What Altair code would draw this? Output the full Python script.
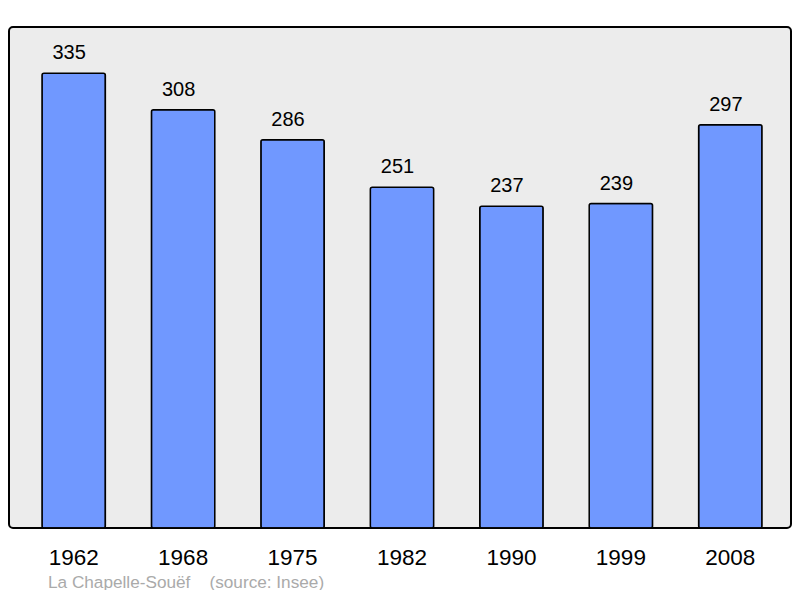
import altair as alt
import pandas as pd

years = ["1962", "1968", "1975", "1982", "1990", "1999", "2008"]
population = [335, 308, 286, 251, 237, 239, 297]

df = pd.DataFrame({"year": years, "pop": population})

x = alt.X("year:N", sort=years, title=None,
          scale=alt.Scale(paddingInner=0.421, paddingOuter=0, range=[33, 753]),
          axis=alt.Axis(labelAngle=0, labelFontSize=22.5, labelColor="black",
                        labelFont="Liberation Sans", ticks=False, domain=False,
                        labelBaseline="alphabetic", labelPadding=36, grid=False))
y = alt.Y("pop:Q", title=None, scale=alt.Scale(domain=[0, 369], nice=False, zero=True),
          axis=None)

bars = alt.Chart(df).mark_bar(color="#7098ff", stroke="black", strokeWidth=1.5,
                              cornerRadius=2).encode(x=x, y=y)
labels = alt.Chart(df).mark_text(fontSize=20, font="Liberation Sans", color="black",
                                 baseline="alphabetic", dy=-14, dx=-4.5).encode(
    x=alt.X("year:N", sort=years), y="pop:Q", text="pop:Q")

chart = (bars + labels).properties(
    width=782, height=501,
    padding={"left": 1, "top": 19, "right": 1, "bottom": 62},
    autosize=alt.AutoSizeParams(type="none"),
    title=alt.TitleParams("La Chapelle-Souëf\u00a0\u00a0\u00a0\u00a0(source: Insee)",
                          orient="bottom", anchor="start", dx=39, offset=5,
                          fontSize=17.2, fontWeight="normal", color="#aaaaaa",
                          font="Liberation Sans"),
).configure_view(fill="#ececec", stroke="black", strokeWidth=2, cornerRadius=4)

chart.save("out.html", embed_options={"renderer": "svg", "actions": False})
